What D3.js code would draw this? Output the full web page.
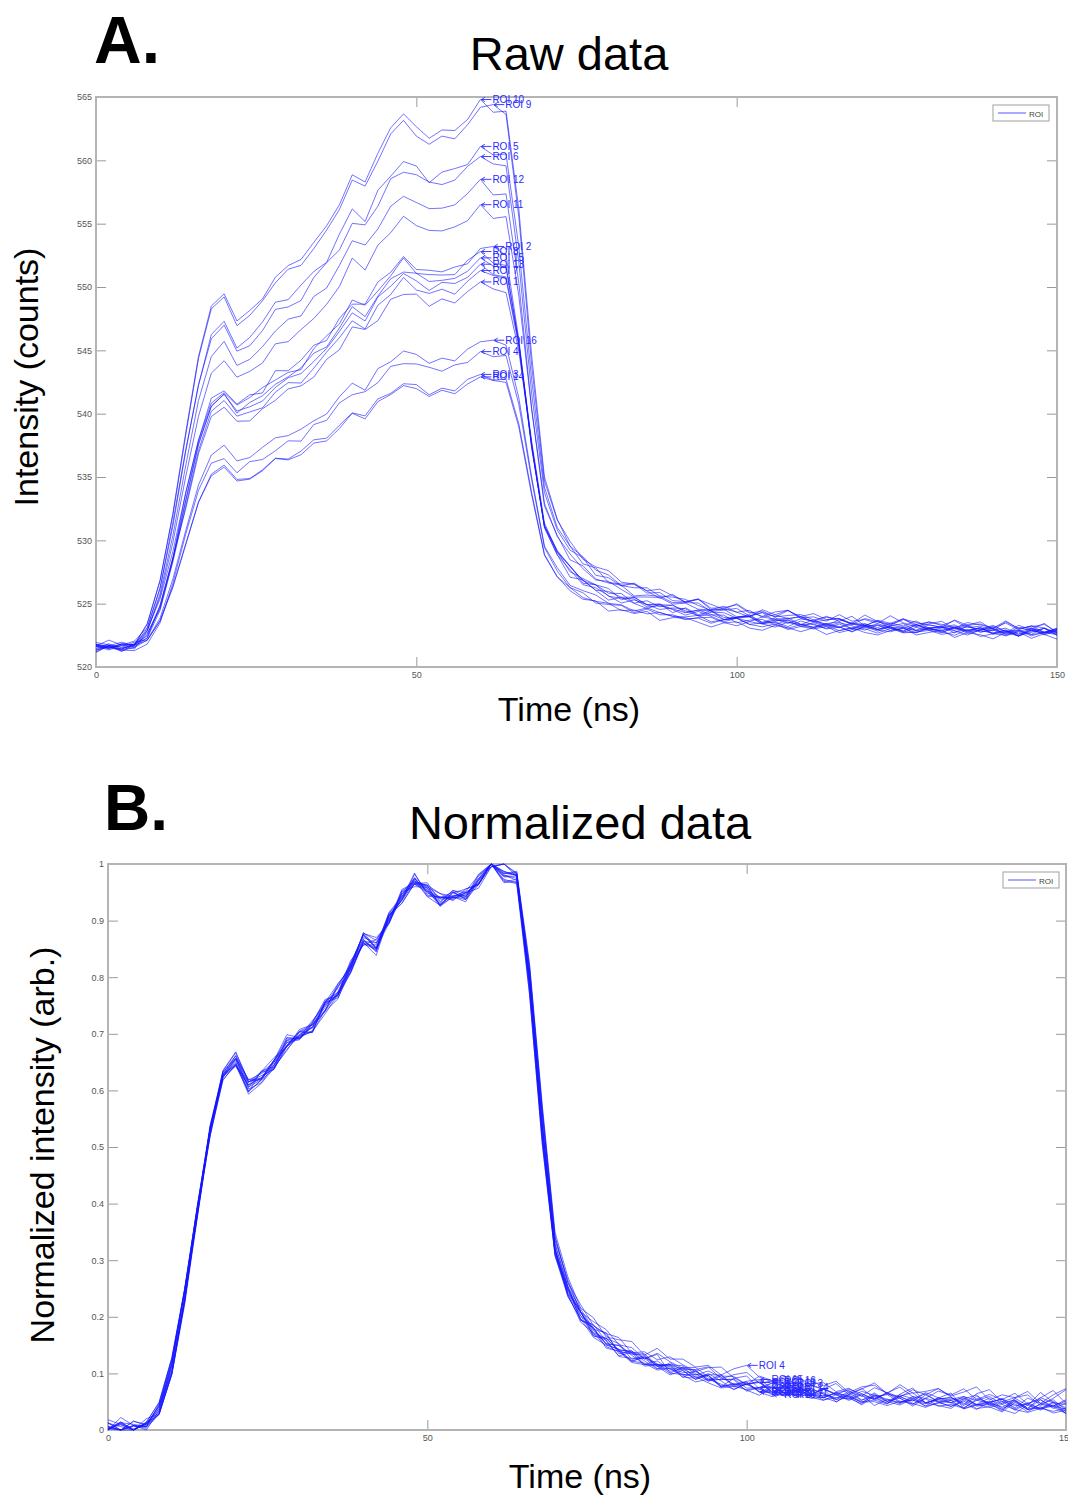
<!DOCTYPE html>
<html><head><meta charset="utf-8">
<script src="https://cdn.jsdelivr.net/npm/d3@7"></script>
<style>
body{margin:0;background:#fff}
svg{display:block}
text{font-family:"Liberation Sans",Arial,Helvetica,sans-serif}
</style>
</head><body>
<svg id="c" width="1068" height="1496"></svg>
<script>
// ---------- DATA ----------
const time = [0,2,4,6,8,10,12,14,16,18,20,22,24,26,28,30,32,34,36,38,40,42,44,46,48,50,52,54,56,58,
  60,62,64,66,68,70,72,74,76,78,80,82,84,86,88,90,92,94,96,98,100,102,104,106,108,110,
  112,114,116,118,120,122,124,126,128,130,132,134,136,138,140,142,144,146,148,150];

// common normalized pulse shape
const shape = [0.008,0.010,0.008,0.012,
  0.04,0.115,0.24,0.39,0.53,0.625,
  0.655,0.61,0.627,0.648,0.685,0.70,0.715,0.75,0.778,0.82,
  0.872,0.857,0.905,0.945,0.972,0.955,0.936,0.945,0.948,0.97,
  1.0,0.975,0.975,0.79,0.53,0.32,
  0.25,0.205,0.18,0.16,0.145,0.134,0.126,0.12,0.113,0.107,
  0.101,0.096,0.091,0.086,0.082,0.079,0.077,0.075,0.072,0.07,
  0.068,0.066,0.064,0.062,0.061,0.06,0.058,0.057,0.056,0.055,
  0.054,0.053,0.052,0.051,0.05,0.049,0.048,0.047,0.046,0.045];

const roiIds = [1,2,3,4,5,6,7,8,9,10,11,12,13,14,15,16];
const peakCounts = [550.4,553.2,543.1,544.9,561.1,560.3,551.3,552.8,564.4,564.8,556.5,558.5,551.8,542.9,552.3,545.8];
const baseCounts = [521.3,521.2,521.4,521.1,521.3,521.5,521.2,521.4,521.3,521.1,521.4,521.2,521.3,521.5,521.2,521.3];
const labelTimeB = [104,102,106,100,104,102,106,104,102,104,106,102,104,106,102,104];

// per-ROI deviations from the common shape (thousandths, normalized units)
const dev01 = [4,-3,6,-2, -5,8,12,-6,4,10, 5,12,-4,8,-6,10,3,-8,12,-4, 6,14,-10,8,-6,12,-2,9,-5,4, 0,6,-4,22,30,14, 10,-6,12,3,-8,10,2,-6,12,4, -5,10,2,-8,6,12,-4,3,-7,10, 2,-6,8,-3,11,-2,5,-8,7,1, -6,9,0,12,-5,4,-9,6,14,-3];
const dev02 = [-2,5,-4,3, 6,-8,-10,5,-6,4, -8,4,10,-6,12,-3,8,10,-6,7, -10,5,12,-4,8,-7,10,-3,6,-8, 0,30,8,-15,-20,-8, -4,8,-10,6,12,-5,9,-3,6,-10, 8,-4,11,-6,3,9,-8,5,12,-2, -7,4,10,-5,2,-9,6,13,-4,3, 8,-6,12,-2,5,-10,3,11,-4,7];
const dev03 = [10,-5,12,3, -8,-12,-15,-10,5,12, 15,8,-6,5,10,-8,6,12,-10,-5, -12,-8,6,-14,-6,8,-10,5,-8,12, 0,4,8,30,40,25, 14,8,2,16,-6,10,4,18,-8,8, 14,2,-10,10,18,-2,-8,12,6,-6, 10,-12,4,16,0,-8,10,22,-4,6, 16,-10,8,2,-12,12,0,24,8,-8];
const dev04 = [-6,14,2,-4, -10,-15,-8,4,10,5, -10,-12,8,-6,-14,4,-12,8,-6,10, -15,10,-8,6,-12,4,12,-10,8,-6, 0,8,12,35,45,30, 22,12,20,6,16,24,8,26,14,20, 12,20,8,24,34,16,10,22,6,18, 12,22,4,16,20,6,24,10,14,20, 8,16,26,4,14,10,22,2,18,30];
const dev05 = [2,-4,5,-1, 4,10,14,8,-4,2, -2,-10,-6,4,6,-4,10,2,-8,6, 4,-6,8,-4,-2,6,-8,4,8,-6, 0,8,10,10,8,4, -6,2,-8,4,-10,-2,6,-6,2,-8, -4,6,-10,2,-6,-12,4,-4,8,-6, -10,2,-6,6,-12,0,-4,6,-8,-2, 4,-10,-2,6,-8,-14,2,-6,8,-10];
const dev06 = [-4,6,-2,2, 2,6,8,10,6,4, 2,-6,-12,-2,4,-6,-8,4,6,-10, -8,4,-6,10,-4,8,12,-2,4,10, 0,10,6,-6,-12,-4, -10,-6,4,-12,-2,-8,6,-4,-12,2, -8,4,-10,-4,6,-8,-2,-12,4,-6, 2,-8,-4,-12,6,-6,-10,2,-4,-8, -12,4,-6,-2,-10,6,-8,-4,2,-12];
const dev07 = [6,-2,0,8, -4,-6,-4,-8,-2,6, 4,8,2,-8,-4,6,-10,-6,8,4, -4,-10,4,-8,10,-6,4,6,-10,2, 0,12,4,10,15,6, 4,10,-4,8,2,-6,10,4,-2,8, 12,-2,6,10,-6,4,8,-4,12,2, -4,8,2,-10,6,10,-2,4,-6,8, 10,2,-8,6,12,-4,8,-2,4,16];
const dev08 = [-6,4,-8,2, 8,12,6,2,-4,-6, -10,4,6,10,-8,-4,-12,6,10,-2, 6,8,-4,-6,12,-10,6,-4,-6,8, 0,-4,-10,-20,-25,-10, -2,4,-8,2,-4,6,-10,2,-6,4, -8,2,6,-6,-2,8,-10,4,-4,-8, 6,-4,-10,2,-6,4,-2,-12,6,-4, -6,2,10,-8,-2,4,-10,6,-4,-8];
const dev09 = [3,-6,4,-2, 10,14,10,6,8,4, -4,-12,-10,-4,-8,2,-6,-10,-4,-8, -6,-2,-4,6,4,-8,-4,2,-6,-2, 0,30,12,8,-5,-8, -10,-4,-12,-6,2,-8,-4,-10,0,-6, -12,-2,-6,-10,4,-8,-14,-4,2,-10, -6,-12,2,-8,-4,-10,6,-6,-12,-2, -8,2,-10,-6,-14,4,-8,-2,-12,-6];
const dev10 = [-3,2,-5,4, 12,16,12,8,6,2, -6,-10,-8,-8,-6,0,-4,-8,-6,-10, -8,-6,-2,4,2,-4,-6,0,-4,-6, 0,2,4,12,8,-2, -8,-12,-6,-10,-4,-12,-8,-2,-10,-6, -4,-10,-14,-6,-8,-2,-12,-6,-10,-4, -12,-6,-2,-10,-8,-14,-4,-8,2,-10, -6,-12,-4,-8,-2,-10,-14,-6,-10,-4];
const dev11 = [2,-2,8,-4, 2,4,0,-2,-6,-4, -6,2,-2,-4,2,-8,4,-6,-2,-4, 8,-4,4,-8,2,-2,6,-4,2,-6, 0,-6,-2,5,10,2, 6,-4,8,-2,4,10,-6,2,6,-2, 4,8,-6,2,10,-4,6,-2,4,8, -2,6,4,-6,8,2,-4,10,0,6, 2,-6,8,4,-2,10,-4,6,2,-8];
const dev12 = [-8,3,2,-6, 4,8,6,4,2,0, 2,-4,-8,-2,-6,4,-4,2,-8,-2, -2,4,-10,-2,-8,-4,2,-6,-2,0, 0,-8,-6,-10,-15,-6, -6,2,-4,-8,4,-2,-10,-4,2,-6, 2,-6,-2,4,-8,-4,6,-10,-2,4, -4,-10,4,-2,-6,6,-8,-4,-10,2, -2,4,-8,-4,6,-6,-2,-10,4,-6];
const dev13 = [8,0,-4,5, -2,-4,-6,-4,2,8, 8,10,4,-2,-4,6,2,-2,4,6, 2,-4,10,-2,4,2,-4,8,2,-4, 0,-2,-8,5,12,10, 6,12,2,-4,8,4,12,-2,6,10, 2,-6,8,12,2,-4,10,6,-2,12, 8,2,-4,10,4,-6,8,2,12,-2, 4,10,-4,2,8,-6,12,4,0,10];
const dev14 = [12,2,-6,10, -10,-14,-12,-6,8,10, 12,6,-4,6,14,-6,-2,6,-14,-10, -6,-12,4,-10,-4,2,-8,6,-10,4, 0,12,5,25,35,22, 12,18,6,12,20,4,14,6,18,10, 4,16,22,8,0,18,12,2,24,12, 6,18,0,12,24,6,2,16,8,20, 6,-6,14,22,2,10,16,-2,12,28];
const dev15 = [-4,6,-6,0, 4,2,-2,-4,0,-2, 0,-4,6,2,-6,-2,6,8,-4,2, 4,-6,-2,2,-8,6,4,-2,0,-4, 0,4,0,-5,-8,0, 4,-2,6,10,-4,2,8,-6,4,2, -2,10,4,-4,6,12,-2,4,8,-6, 6,-2,10,4,-6,8,2,-4,12,4, -4,8,2,10,-2,6,-8,12,4,2];
const dev16 = [6,-8,10,-2, -6,-10,-8,-2,6,8, 10,4,-2,10,4,-4,2,-6,-12,2, -6,-14,8,-10,-2,4,-6,2,-10,6, 0,30,14,28,32,18, 18,6,14,20,8,14,2,18,10,4, 8,18,2,14,22,6,12,16,0,14, 18,4,12,0,16,8,20,4,2,16, 10,22,4,14,6,18,0,12,26,4];

const xTicks = [0,50,100,150];
const yTicksA = [520,525,530,535,540,545,550,555,560,565];
const yTicksB = [0,0.1,0.2,0.3,0.4,0.5,0.6,0.7,0.8,0.9,1];

// ---------- BUILD SERIES ----------
const devs = [dev01,dev02,dev03,dev04,dev05,dev06,dev07,dev08,dev09,dev10,dev11,dev12,dev13,dev14,dev15,dev16];
devs.forEach((d,i)=>{ if(d.length!==time.length) throw new Error('dev'+(i+1)+' length '+d.length); });
if(shape.length!==time.length) throw new Error('shape length '+shape.length);

const rois = roiIds.map((id,i)=>{
  const n = shape.map((v,j)=>v+devs[i][j]/1000);
  const amp = (peakCounts[i]-baseCounts[i])/d3.max(n);
  const raw = n.map(v=>baseCounts[i]+amp*v);
  const lo = d3.min(raw), hi = d3.max(raw);
  const norm = raw.map(v=>(v-lo)/(hi-lo));
  return {id, raw, norm, labelT: labelTimeB[i]};
});

// ---------- DRAW ----------
const svg = d3.select('#c');
const LINE = '#1414ff';
const LABEL = '#2a2aff';

function panel(o){
  const x = d3.scaleLinear().domain([0,150]).range([o.left,o.right]);
  const y = d3.scaleLinear().domain(o.yDomain).range([o.bottom,o.top]);
  const g = svg.append('g');

  // mirrored inward ticks (right & top)
  g.append('g').attr('transform',`translate(${o.right},0)`)
    .call(d3.axisRight(y).tickValues(o.yTicks).tickSizeInner(-10).tickSizeOuter(0).tickFormat(''))
    .call(s=>{s.select('.domain').remove(); s.selectAll('line').attr('stroke','#9a9a9a');});
  g.append('g').attr('transform',`translate(0,${o.top})`)
    .call(d3.axisTop(x).tickValues(xTicks).tickSizeInner(-10).tickSizeOuter(0).tickFormat(''))
    .call(s=>{s.select('.domain').remove(); s.selectAll('line').attr('stroke','#9a9a9a');});
  // left & bottom axes with labels
  g.append('g').attr('transform',`translate(${o.left},0)`)
    .call(d3.axisLeft(y).tickValues(o.yTicks).tickSizeInner(-10).tickSizeOuter(0).tickPadding(4).tickFormat(o.yFmt))
    .call(s=>{s.select('.domain').remove(); s.selectAll('line').attr('stroke','#9a9a9a');
      s.selectAll('text').attr('fill','#555').style('font-size','9px');});
  g.append('g').attr('transform',`translate(0,${o.bottom})`)
    .call(d3.axisBottom(x).tickValues(xTicks).tickSizeInner(-10).tickSizeOuter(0).tickPadding(5).tickFormat(d3.format('d')))
    .call(s=>{s.select('.domain').remove(); s.selectAll('line').attr('stroke','#9a9a9a');
      s.selectAll('text').attr('fill','#555').style('font-size','9px');});

  // box
  g.append('rect').attr('x',o.left).attr('y',o.top).attr('width',o.right-o.left).attr('height',o.bottom-o.top)
    .attr('fill','none').attr('stroke','#b4b4b4').attr('stroke-width',2);

  // lines
  const line = d3.line().x((d,i)=>x(time[i])).y(d=>y(d));
  g.append('g').selectAll('path').data(rois).join('path')
    .attr('d',d=>line(d[o.key]))
    .attr('fill','none').attr('stroke',LINE).attr('stroke-width',0.8)
    .attr('stroke-opacity',0.75).attr('stroke-linejoin','round');

  // ROI labels: left arrow + text, anchored at the data point
  const lab = g.append('g').selectAll('g').data(rois).join('g')
    .attr('transform',d=>{ const j=o.labelIndex(d); return `translate(${x(time[j])},${y(d[o.key][j])})`; });
  lab.append('path').attr('d','M1,0 L11,0 M1,0 L4.5,-2.2 M1,0 L4.5,2.2')
    .attr('stroke',LABEL).attr('stroke-width',0.9).attr('fill','none');
  lab.append('text').attr('x',12).attr('dy','0.35em').attr('fill',LABEL)
    .style('font-size','10px').text(d=>'ROI '+d.id);

  // legend
  const lg = g.append('g');
  lg.append('rect').attr('x',o.legX).attr('y',o.legY).attr('width',56).attr('height',16)
    .attr('fill','#fff').attr('stroke','#b0b0b0').attr('stroke-width',1.2);
  lg.append('line').attr('x1',o.legX+5).attr('x2',o.legX+33).attr('y1',o.legY+8).attr('y2',o.legY+8)
    .attr('stroke','#7070ff').attr('stroke-width',1.2);
  lg.append('text').attr('x',o.legX+36).attr('y',o.legY+11.5).attr('fill','#444').style('font-size','8px').text('ROI');

  // titles and axis labels
  svg.append('text').attr('x',o.panelX).attr('y',o.panelY).style('font-size',o.panelSize+'px')
    .style('font-weight','bold').attr('fill','#000').text(o.panel);
  svg.append('text').attr('x',o.titleX).attr('y',o.titleY).attr('text-anchor','middle')
    .style('font-size','47px').attr('fill','#000').text(o.title);
  svg.append('text').attr('x',o.titleX).attr('y',o.xlabY).attr('text-anchor','middle')
    .style('font-size','34px').attr('fill','#000').text('Time (ns)');
  svg.append('text').attr('transform',`translate(${o.ylabX},${(o.top+o.bottom)/2+o.ylabShift}) rotate(-90)`)
    .attr('text-anchor','middle').style('font-size','34px').attr('fill','#000').text(o.ylab);
}

panel({
  left:96,right:1057,top:97,bottom:667,yDomain:[520,565],yTicks:yTicksA,yFmt:d3.format('d'),
  key:'raw', labelIndex:d=>d3.maxIndex(d.raw),
  legX:993,legY:105,
  panel:'A.',panelX:94,panelY:63,panelSize:66,
  title:'Raw data',titleX:569,titleY:70,xlabY:721,
  ylab:'Intensity (counts)',ylabX:38,ylabShift:-5
});
panel({
  left:108,right:1066,top:864,bottom:1430,yDomain:[0,1],yTicks:yTicksB,
  yFmt:d=> d===0?'0':(d===1?'1':d.toFixed(1)),
  key:'norm', labelIndex:d=>time.indexOf(d.labelT),
  legX:1003,legY:872,
  panel:'B.',panelX:104,panelY:830,panelSize:64,
  title:'Normalized data',titleX:580,titleY:839,xlabY:1488,
  ylab:'Normalized intensity (arb.)',ylabX:54,ylabShift:-2
});
</script>
</body></html>
